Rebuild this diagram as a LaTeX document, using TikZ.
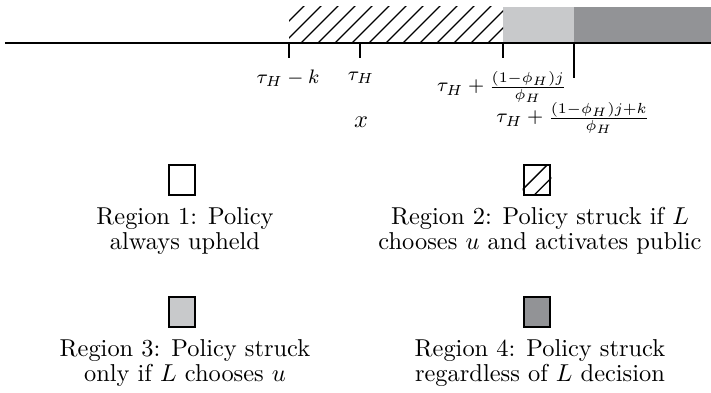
\documentclass[tikz,border=0pt]{standalone}
\usepackage{amsmath}
\usepackage{tikz}

\definecolor{lightregion}{HTML}{C8C9CB}
\definecolor{darkregion}{HTML}{929396}

\tikzset{
  tick/.style={line width=0.8pt},
  ticklabel/.style={font=\fontsize{8.5pt}{10pt}\selectfont, inner sep=0pt},
  legendbox/.style={draw, line width=0.8pt, minimum width=11pt, minimum height=12pt, inner sep=0pt},
  legendtext/.style={align=center, font=\fontsize{10pt}{10.2pt}\selectfont, inner sep=0pt}
}

\begin{document}
\begin{tikzpicture}[x=0.4093pt, y=-0.4093pt]
        \useasboundingbox (0,0) rectangle (711,393);
        % regions above the axis
        \fill[lightregion] (503,7) rectangle (574,43);
        \fill[darkregion] (574,7) rectangle (711,43);
        \begin{scope}
            \clip (289,7) rectangle (503,43);
            \foreach \i in {250,267,...,520}
                \draw[line width=0.55pt] (\i,43) -- ++(50,-50);
        \end{scope}
        % axis and ticks
        \coordinate (start) at (5,43);
        \coordinate (end) at (711,43);
        \draw[line width=0.8pt] (start) -- (end);
        \coordinate (t1) at (289,43);
        \coordinate (t2) at (360,43);
        \coordinate (t3) at (503,43);
        \coordinate (t4) at (574,43);
        \draw[tick] (t1) -- ++(0,15);
        \draw[tick] (t2) -- ++(0,15);
        \draw[tick] (t3) -- ++(0,15);
        \draw[tick] (t4) -- ++(0,35);
        \node[ticklabel] (l1) at (288,78) {$\tau_H - k$};
        \node[ticklabel] (l2) at (361,78) {$\tau_H$};
        \node[ticklabel] (l3) at (502,87) {$\tau_H + \frac{(1-\phi_H)j}{\phi_H}$};
        \node[ticklabel] (l4) at (573,118) {$\tau_H + \frac{(1-\phi_H)j+k}{\phi_H}$};
        \node (xlab) at (361,122) {$x$};
        % legend
        \node[legendbox] (box1) at (182,180) {};
        \node[legendbox] (box2) at (537,180) {};
        \begin{scope}
            \clip (box2.south west) rectangle (box2.north east);
            \draw[line width=0.55pt] ([xshift=-2.5pt]box2.south west) -- ++(16pt,16pt);
            \draw[line width=0.55pt] ([xshift=4.5pt]box2.south west) -- ++(16pt,16pt);
        \end{scope}
        \node[legendbox, fill=lightregion] (box3) at (182,312) {};
        \node[legendbox, fill=darkregion] (box4) at (537,312) {};
        \node[legendtext] (txt1) at (185,231) {Region 1: Policy\\always upheld};
        \node[legendtext] (txt2) at (540,231) {Region 2: Policy struck if $L$\\chooses $u$ and activates public};
        \node[legendtext] (txt3) at (185,363) {Region 3: Policy struck\\only if $L$ chooses $u$};
        \node[legendtext] (txt4) at (540,363) {Region 4: Policy struck\\regardless of $L$ decision};
    \end{tikzpicture}
\end{document}
